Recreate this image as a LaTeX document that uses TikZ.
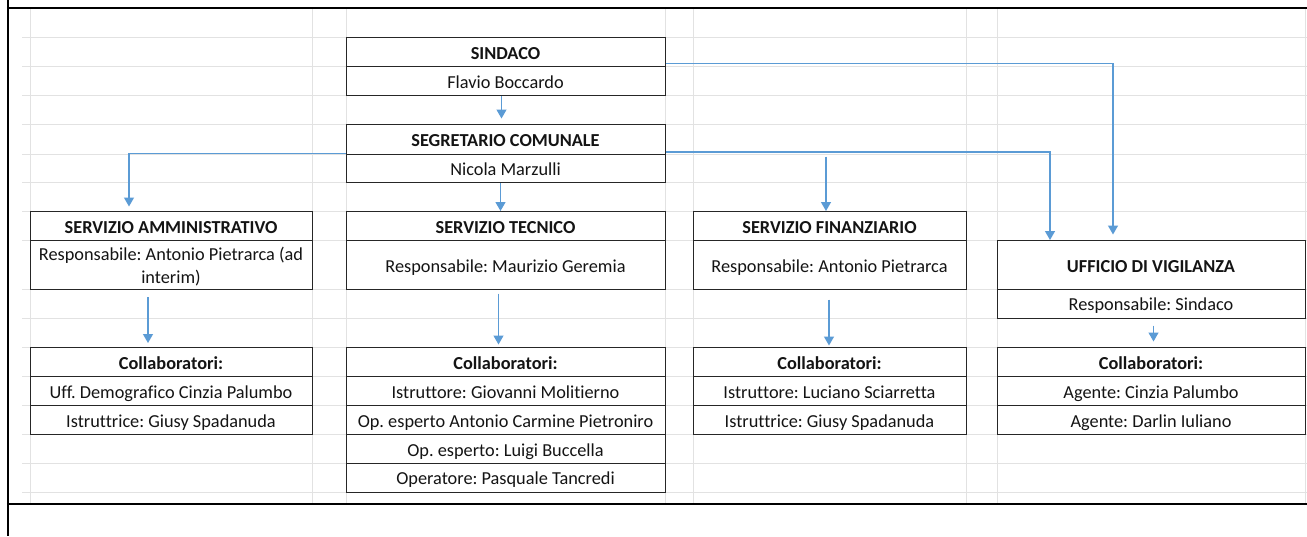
\documentclass[tikz,border=0pt]{standalone}
\usepackage{fontspec}
\setmainfont{Carlito}[Ligatures={NoCommon}]
\frenchspacing
\usetikzlibrary{arrows.meta}
\definecolor{xlblue}{HTML}{5B9BD5}
\definecolor{gridc}{HTML}{E2E2E2}
\definecolor{boxc}{HTML}{262626}
\definecolor{txtc}{HTML}{141414}
\begin{document}
\begin{tikzpicture}[x=1pt,y=-1pt,
  cell/.style={draw=boxc, fill=white, line width=1pt, inner sep=0pt, text height=14.6pt, text depth=0pt,
    font=\fontsize{18.3}{23.3}\selectfont, text=txtc},
  hd/.style={cell, font=\fontsize{18.3}{23.3}\selectfont\bfseries},
  cB/.style={minimum width=282pt},
  cD/.style={minimum width=319pt},
  cF/.style={minimum width=273pt},
  cH/.style={minimum width=308pt},
  arr/.style={draw=xlblue, line width=1.3pt, -{Triangle[width=10pt,length=9pt]}},
  gridline/.style={draw=gridc, line width=1pt},
  frame/.style={draw=black, line width=2.4pt}]
\useasboundingbox (0,0) rectangle (1307,536);
\fill[white] (0,0) rectangle (1307,536);
% spreadsheet grid
\foreach \yy in {37.5,66.5,95.5,124.5,154,182.5,211.5,240.5,289,318,347,376.5,405.5,434.5,463,492}
  \draw[gridline] (22,\yy) -- (1307,\yy);
\foreach \xx in {30,312,346,665,693,966,997,1305}
  \draw[gridline] (\xx,8) -- (\xx,504);
% frame
\draw[frame] (6.8,8) -- (1307,8);
\draw[frame] (8,0) -- (8,536);
\draw[frame] (6.8,504) -- (1307,504);

% SINDACO
\node[hd,cD,minimum height=29pt] (sindH) at (505.5,52) {SINDACO};
\node[cell,cD,minimum height=29pt] (sindN) at (505.5,81) {Flavio Boccardo};
% SEGRETARIO
\node[hd,cD,minimum height=29.5pt] (segH) at (505.5,139.25) {SEGRETARIO COMUNALE};
\node[cell,cD,minimum height=28.5pt] (segN) at (505.5,168.25) {Nicola Marzulli};

% SERVIZI
\node[hd,cB,minimum height=29pt] (ammH) at (171,226) {SERVIZIO AMMINISTRATIVO};
\node[cell,cB,minimum height=48.5pt] (ammR) at (171,264.75) {};
\node[font=\fontsize{18.3}{23.3}\selectfont, text=txtc, align=center, inner sep=0pt, anchor=base] (ammRt) at (171,283.8)
  {Responsabile: Antonio Pietrarca (ad\\interim)};

\node[hd,cD,minimum height=29pt] (tecH) at (505.5,226) {SERVIZIO TECNICO};
\node[cell,cD,minimum height=48.5pt] (tecR) at (505.5,264.75) {Responsabile: Maurizio Geremia};

\node[hd,cF,minimum height=29pt] (finH) at (829.5,226) {SERVIZIO FINANZIARIO};
\node[cell,cF,minimum height=48.5pt] (finR) at (829.5,264.75) {Responsabile: Antonio Pietrarca};

\node[hd,cH,minimum height=48.5pt] (vigH) at (1151,264.75) {UFFICIO DI VIGILANZA};
\node[cell,cH,minimum height=29pt] (vigR) at (1151,303.5) {Responsabile: Sindaco};

% Collaboratori amministrativo
\node[hd,cB,minimum height=29.5pt] (ammC) at (171,361.75) {Collaboratori:};
\node[cell,cB,minimum height=29pt] (ammC1) at (171,391) {Uff. Demografico Cinzia Palumbo};
\node[cell,cB,minimum height=29pt] (ammC2) at (171,420) {Istruttrice: Giusy Spadanuda};

% Collaboratori tecnico
\node[hd,cD,minimum height=29.5pt] (tecC) at (505.5,361.75) {Collaboratori:};
\node[cell,cD,minimum height=29pt] (tecC1) at (505.5,391) {Istruttore: Giovanni Molitierno};
\node[cell,cD,minimum height=29pt] (tecC2) at (505.5,420) {Op. esperto Antonio Carmine Pietroniro};
\node[cell,cD,minimum height=28.5pt] (tecC3) at (505.5,448.75) {Op. esperto: Luigi Buccella};
\node[cell,cD,minimum height=29pt] (tecC4) at (505.5,477.5) {Operatore: Pasquale Tancredi};

% Collaboratori finanziario
\node[hd,cF,minimum height=29.5pt] (finC) at (829.5,361.75) {Collaboratori:};
\node[cell,cF,minimum height=29pt] (finC1) at (829.5,391) {Istruttore: Luciano Sciarretta};
\node[cell,cF,minimum height=29pt] (finC2) at (829.5,420) {Istruttrice: Giusy Spadanuda};

% Collaboratori vigilanza
\node[hd,cH,minimum height=29.5pt] (vigC) at (1151,361.75) {Collaboratori:};
\node[cell,cH,minimum height=29pt] (vigC1) at (1151,391) {Agente: Cinzia Palumbo};
\node[cell,cH,minimum height=29pt] (vigC2) at (1151,420) {Agente: Darlin Iuliano};

% connectors
\draw[arr] ([xshift=-4pt]sindN.south) -- ([xshift=-4pt,yshift=5.5pt]segH.north);
\draw[arr] ([yshift=2.5pt]sindN.north east) -| ([xshift=-38pt,yshift=5.5pt]vigH.north);
\draw[arr] ([yshift=1.5pt]segN.north east) -| ([xshift=-101pt]vigH.north);
\draw[arr] ([yshift=-3pt,xshift=-3.5pt]finH.north |- segN.north) -- ([xshift=-3.5pt]finH.north);
\draw[arr] (segN.north west) -| ([xshift=-42pt,yshift=4.5pt]ammH.north);
\draw[arr] ([xshift=-5pt]segN.south) -- ([xshift=-5pt]tecH.north);
\draw[arr] ([xshift=-23pt,yshift=-7.5pt]ammR.south) -- ([xshift=-23pt,yshift=3.5pt]ammC.north);
\draw[arr] ([xshift=-7pt,yshift=-4pt]tecR.south) -- ([xshift=-7pt,yshift=2pt]tecC.north);
\draw[arr] ([xshift=-0.5pt,yshift=-10pt]finR.south) -- ([xshift=-0.5pt,yshift=1pt]finC.north);
\draw[arr] ([xshift=2.5pt,yshift=-7pt]vigR.south) -- ([xshift=2.5pt,yshift=5pt]vigC.north);
\end{tikzpicture}
\end{document}
